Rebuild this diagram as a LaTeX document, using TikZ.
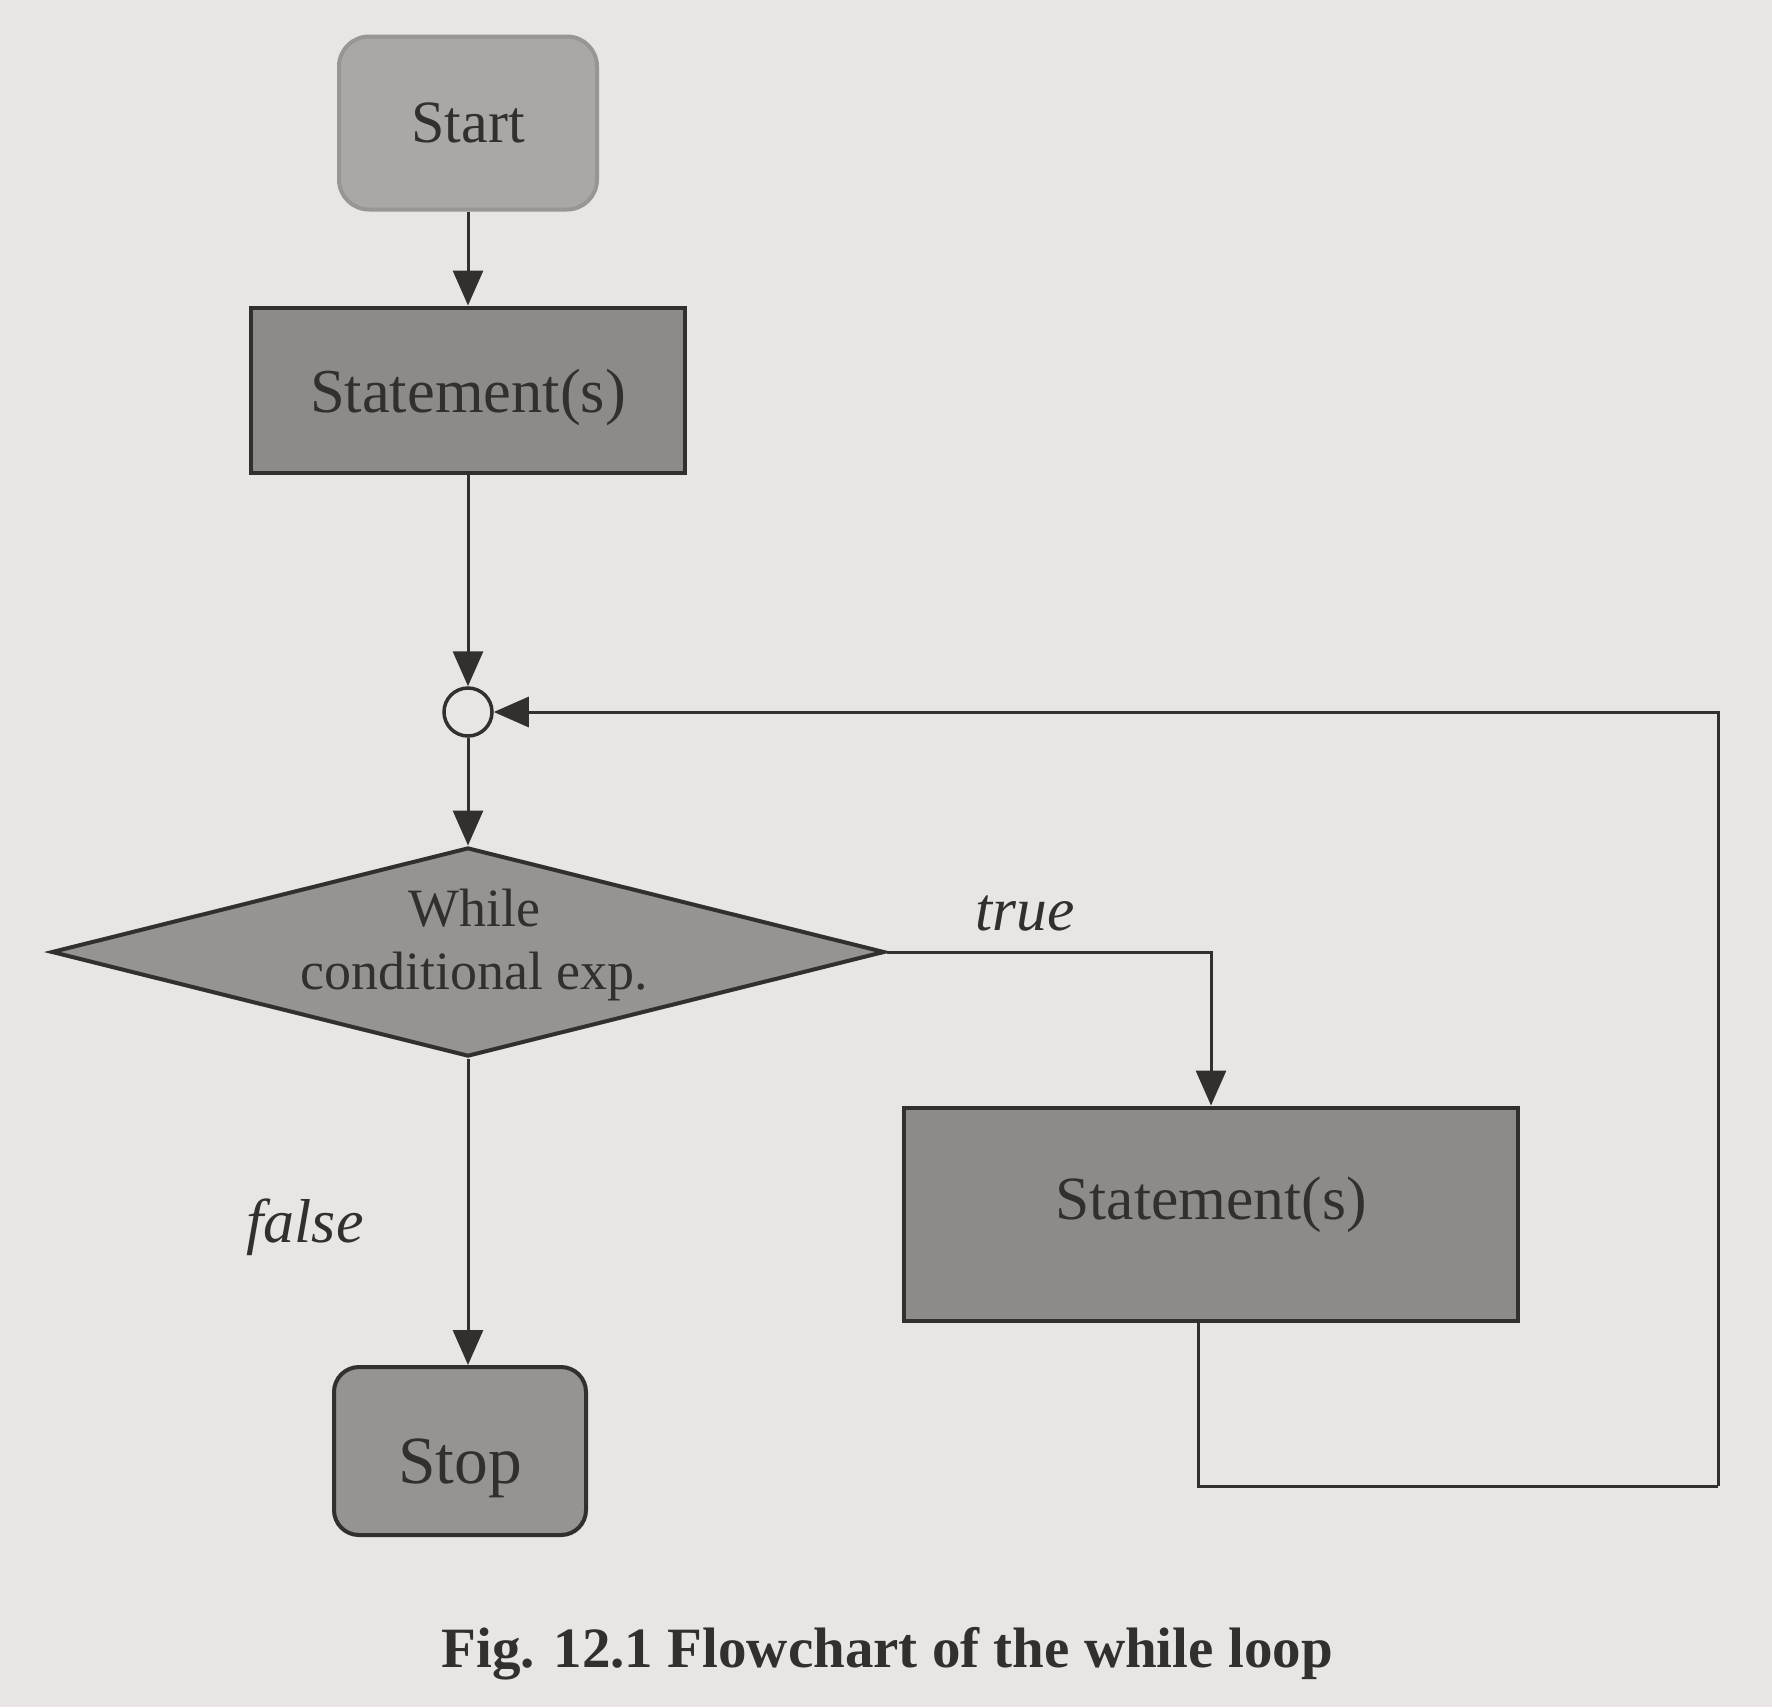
\documentclass[tikz,border=0pt]{standalone}
\usepackage{fontspec}
\setmainfont{Liberation Serif}
\usetikzlibrary{arrows.meta,shapes.geometric}

\definecolor{paper}{RGB}{234,229,229}
\definecolor{ink}{RGB}{52,47,47}
\definecolor{startgray}{RGB}{172,167,167}
\definecolor{boxgray}{RGB}{143,138,138}
\definecolor{diamgray}{RGB}{152,147,147}

\tikzset{every picture/.style={line width=0.75pt}}
\tikzset{
	flowline/.style={draw=ink, line width=0.6pt},
	flowarrow/.style={flowline, -{Triangle[length=7pt,width=6pt]}},
	termbox/.style={rectangle, rounded corners=6pt, fill=startgray, draw=ink, line width=0.8pt, inner sep=0pt},
	stmtbox/.style={rectangle, fill=boxgray, draw=ink, line width=0.8pt, inner sep=0pt},
	boxtext/.style={text=ink, font=\fontsize{12.5}{14}\selectfont}}

\begin{document}
\begin{tikzpicture}[x=0.2pt,y=0.2pt,yscale=-1]
	%set diagram to the size of the scan, with its paper colour
	\fill[paper] (0,0) rectangle (1772,1707);
	\useasboundingbox (0,0) rectangle (1772,1707);

	%Shape: Rounded Rect [id:start]
	\node[termbox, draw=startgray!85!ink, minimum width=51.6pt, minimum height=34.6pt, boxtext, font=\fontsize{12}{14}\selectfont] (start) at (468,123) {Start};
	%Shape: Rectangle [id:stmt1]
	\node[stmtbox, minimum width=86.8pt, minimum height=33pt, boxtext, text height=11.5pt, text depth=2.7pt] (stmt1) at (468,390) {Statement(s)};
	%Shape: Circle [id:junc]
	\node[circle, draw=ink, line width=0.7pt, minimum size=9.6pt, inner sep=0pt] (junc) at (468,712) {};
	%Shape: Diamond [id:diam]
	\node[diamond, fill=diamgray, draw=ink, line width=0.8pt, inner sep=0pt, minimum width=166.6pt, minimum height=41.8pt] (diam) at (468,952) {};
	% Text Node
	\node[text=ink, align=center, font=\fontsize{10.8}{12.6}\selectfont] (diamtext) at (474,945) {While\\conditional exp.};
	%Shape: Rectangle [id:stmt2]
	\node[stmtbox, minimum width=122.8pt, minimum height=42.6pt, boxtext, font=\fontsize{12.3}{14}\selectfont, text height=8.5pt, text depth=6.2pt] (stmt2) at (1211,1214) {Statement(s)};
	%Shape: Rounded Rect [id:stop]
	\node[termbox, fill=diamgray, rounded corners=5pt, minimum width=50.4pt, minimum height=33.6pt, boxtext, font=\fontsize{13.5}{15}\selectfont, text height=13pt, text depth=0pt] (stop) at (460,1451) {Stop};

	%Straight Lines
	\draw[flowarrow] (start.south) -- (start.south |- stmt1.north) ;
	\draw[flowarrow] (stmt1.south) -- (junc.north) ;
	\draw[flowarrow] (junc.south) -- (diam.north) ;
	\draw[flowarrow] (diam.east) -| (stmt2.north) ;
	\draw[flowarrow] (diam.south) -- (diam.south |- stop.north) ;
	%Loop back
	\coordinate (loopcorner) at (1718,1486);
	\draw[flowline] ([xshift=-2.6pt]stmt2.south) |- (loopcorner) ;
	\draw[flowarrow] (loopcorner) |- (junc.east) ;

	% Text Node
	\node[text=ink, font=\itshape\fontsize{12.3}{14}\selectfont] (truelbl) at (1025,914) {true};
	% Text Node
	\node[text=ink, font=\itshape\fontsize{12.4}{14}\selectfont] (falselbl) at (305,1227) {false};
	% Text Node
	\node[text=ink, font=\bfseries\fontsize{11.4}{13}\selectfont] (caption) at (887,1654) {Fig. 12.1 Flowchart of the while loop};

\end{tikzpicture}
\end{document}
